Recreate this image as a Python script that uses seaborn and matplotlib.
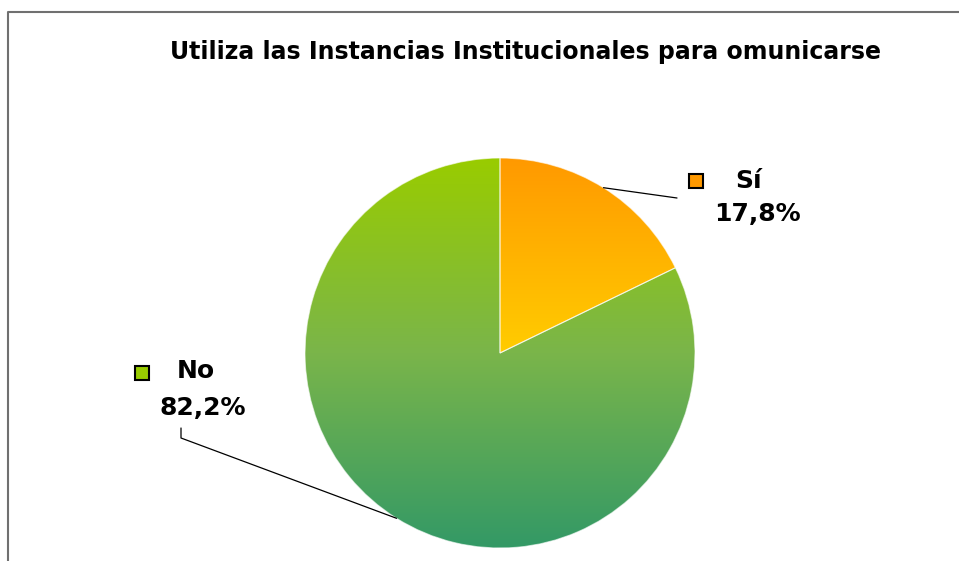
import numpy as np
import seaborn as sns
import matplotlib.pyplot as plt
from matplotlib.lines import Line2D


# Chart data
categories = ["Sí", "No"]
shares = [17.8, 82.2]
pct_labels = ["17,8%", "82,2%"]
title = "Utiliza las Instancias Institucionales para omunicarse"

# gradient stops per slice (top -> bottom), legend swatch colour
gradients = [["#FF9900", "#FFB300", "#FFCC00"],
             ["#99CC00", "#7AB54A", "#339966"]]
swatch = ["#FF9900", "#99CC00"]

sns.set_theme(style="white")
plt.rcParams["font.family"] = ["DejaVu Sans"]
plt.rcParams["text.color"] = "black"

W, H = 959, 561
fig = plt.figure(figsize=(W / 100, H / 100), dpi=100)
ax = fig.add_axes([0, 0, 1, 1])

# pie centre / radius in pixels, used only to lay the axes out
cx, cy, R = 500, 353, 195

wedges, _ = ax.pie(shares, startangle=90, counterclock=False,
                   colors=swatch, radius=1,
                   wedgeprops={"edgecolor": (1, 1, 1, 0.6), "linewidth": 0.8})

# vertical gradient inside each wedge
for w, stops in zip(wedges, gradients):
    bb = w.get_path().get_extents()
    cmap = sns.blend_palette(stops[::-1], n_colors=256, as_cmap=True)
    grad = np.linspace(0, 1, 256).reshape(-1, 1)
    im = ax.imshow(grad, cmap=cmap, origin="lower", aspect="auto",
                   extent=[bb.x0, bb.x1, bb.y0, bb.y1], zorder=w.get_zorder())
    im.set_clip_path(w)
    w.set_facecolor("none")
    w.set_zorder(w.get_zorder() + 0.5)

ax.set_xlim(-cx / R, (W - cx) / R)
ax.set_ylim(-(H - cy) / R, cy / R)
ax.set_aspect("auto")
ax.axis("off")


def px(x, y):
    # pixel position -> data coords
    return (x - cx) / R, (cy - y) / R


# label anchors (swatch, name, percent) and leader-line ends
label_pos = {
    "Sí": dict(sw=px(696, 181), name=px(735, 181), pct=px(757, 214),
               line=[px(677, 198)]),
    "No": dict(sw=px(142, 373), name=px(177, 371), pct=px(203, 408),
               line=[px(181, 438), px(181, 428)]),
}

for w, cat, pct, col in zip(wedges, categories, pct_labels, swatch):
    lp = label_pos[cat]
    ang = np.deg2rad((w.theta1 + w.theta2) / 2)
    pts = [(np.cos(ang), np.sin(ang))] + lp["line"]
    xs, ys = zip(*pts)
    ax.plot(xs, ys, color="black", lw=0.9, zorder=5)
    ax.plot(*lp["sw"], marker="s", ms=10.5, mfc=col, mec="black", mew=1.5, zorder=6)
    ax.text(*lp["name"], cat, fontsize=18, fontweight="bold",
            ha="left", va="center")
    ax.text(*lp["pct"], pct, fontsize=18, fontweight="bold",
            ha="center", va="center")

fig.text(526 / W, 1 - 52 / H, title, fontsize=17, fontweight="bold",
         ha="center", va="center")

# chart-area frame (top and left edges visible)
fig.add_artist(Line2D([8 / W, 8 / W, 1], [0, 1 - 12 / H, 1 - 12 / H],
                      transform=fig.transFigure, color="#707070", lw=1.5))

fig.savefig("out.png", dpi=100)
